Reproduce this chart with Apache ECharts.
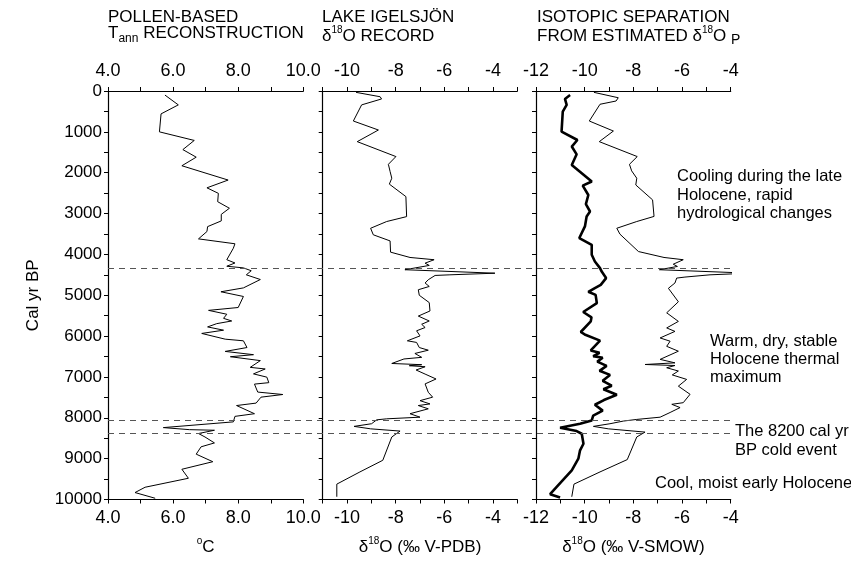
<!DOCTYPE html>
<html>
<head>
<meta charset="utf-8">
<title>Igelsjon records</title>
<script src="https://cdn.jsdelivr.net/npm/echarts@6/dist/echarts.min.js"></script>
<style>
	html, body { margin: 0; padding: 0; background: #fff; }
	#chart { width: 851px; height: 561px; }
</style>
</head>
<body>
<div id="chart"></div>
<script>
// pollen-based Tann
const ageTann = [100, 340, 560, 1000, 1210, 1435, 1620, 1830, 2180, 2370, 2505, 2710, 2870, 3020, 3180, 3320, 3440, 3620, 3740, 3850, 4130, 4210, 4290, 4330, 4400, 4500, 4615, 4820, 4915, 5030, 5300, 5370, 5465, 5565, 5630, 5695, 5775, 5855, 5935, 6075, 6115, 6280, 6375, 6455, 6505, 6600, 6765, 6805, 6925, 7005, 7140, 7175, 7370, 7430, 7495, 7640, 7700, 7900, 7965, 8100, 8240, 8290, 8305, 8385, 8470, 8615, 8710, 8890, 9075, 9260, 9480, 9700, 9830, 9970]
const tann = [5.75, 6.16, 5.63, 5.58, 6.65, 6.30, 6.71, 6.27, 7.69, 7.04, 7.39, 7.37, 7.73, 7.48, 7.48, 7.06, 7.04, 6.78, 7.90, 7.85, 7.65, 7.90, 7.65, 8.16, 8.40, 8.25, 8.68, 8.16, 7.47, 8.16, 8.00, 7.09, 7.65, 7.55, 7.80, 7.34, 7.06, 7.55, 6.88, 7.60, 8.16, 8.27, 7.60, 8.47, 7.76, 8.68, 8.37, 8.83, 8.47, 8.88, 8.94, 8.50, 8.60, 9.37, 8.70, 8.55, 7.95, 8.50, 7.90, 7.85, 5.70, 6.50, 7.27, 6.78, 6.98, 7.27, 6.86, 6.71, 7.22, 6.27, 6.47, 5.14, 4.83, 5.45]

// lake Igelsjon d18O (V-PDB)
const ageLake = [33, 140, 195, 340, 735, 955, 1240, 1605, 1795, 1970, 2135, 2280, 2585, 3075, 3195, 3360, 3520, 3670, 3945, 4075, 4130, 4215, 4270, 4375, 4460, 4500, 4515, 4620, 4700, 4785, 4865, 5000, 5180, 5385, 5510, 5630, 5710, 5790, 5870, 5995, 6115, 6155, 6280, 6345, 6425, 6520, 6560, 6670, 6700, 6725, 6750, 6830, 6930, 7050, 7170, 7375, 7495, 7580, 7660, 7700, 7780, 7900, 7985, 8025, 8050, 8145, 8210, 8270, 8325, 8470, 9040, 9325, 9624, 9933]
const d18oLake = [-9.63, -8.64, -8.58, -9.40, -9.74, -8.71, -9.58, -7.99, -8.30, -8.23, -8.16, -8.26, -7.58, -7.55, -8.37, -9.03, -8.92, -8.23, -8.21, -7.41, -6.42, -6.79, -6.62, -7.62, -3.92, -5.77, -6.38, -6.66, -6.79, -6.62, -7.07, -7.03, -6.62, -6.59, -7.07, -6.62, -6.93, -6.79, -7.14, -7.00, -7.52, -7.14, -7.03, -6.66, -7.21, -6.93, -7.66, -8.16, -6.93, -7.44, -6.79, -7.16, -6.79, -6.34, -6.79, -6.66, -6.48, -7.00, -6.59, -7.07, -6.66, -7.41, -7.00, -8.37, -8.78, -8.99, -9.71, -9.03, -7.82, -8.16, -8.53, -9.47, -10.42, -10.42]

// isotopic separation, thin line (V-SMOW)
const ageSepThin = [33, 165, 245, 325, 735, 980, 1240, 1605, 1795, 1955, 2135, 2300, 2665, 3070, 3195, 3360, 3505, 3930, 4075, 4130, 4240, 4295, 4375, 4460, 4500, 4555, 4580, 4700, 4830, 5160, 5430, 5640, 5800, 5885, 6045, 6125, 6250, 6370, 6570, 6655, 6695, 6720, 6775, 6855, 6950, 7060, 7225, 7425, 7630, 7670, 7750, 7870, 7985, 8040, 8080, 8145, 8210, 8270, 8350, 8470, 9023, 9325, 9624, 9933]
const d18oSepThin = [-9.62, -8.62, -8.71, -9.37, -9.81, -8.82, -9.40, -7.84, -8.16, -8.07, -7.86, -7.90, -7.21, -7.15, -7.86, -8.68, -8.55, -7.79, -6.74, -5.95, -6.36, -6.19, -6.93, -3.23, -4.85, -5.88, -6.22, -6.29, -6.56, -6.15, -6.63, -6.15, -6.63, -6.29, -6.90, -6.49, -6.63, -6.15, -6.90, -6.29, -7.52, -6.29, -6.63, -6.15, -6.40, -5.81, -6.15, -5.67, -5.95, -6.42, -6.08, -6.49, -6.90, -7.86, -8.41, -8.96, -9.64, -9.03, -7.52, -7.86, -8.25, -9.37, -10.44, -10.53]

// isotopic separation, thick line (estimated d18O P)
const ageSepThick = [100, 195, 340, 505, 995, 1200, 1360, 1550, 1810, 2215, 2315, 2545, 2770, 2950, 3070, 3315, 3600, 3765, 4010, 4175, 4335, 4420, 4580, 4745, 4830, 4915, 4990, 5195, 5410, 5540, 5640, 5900, 5960, 6110, 6350, 6410, 6490, 6530, 6625, 6730, 6850, 6950, 7095, 7215, 7300, 7435, 7565, 7680, 7825, 7945, 8065, 8145, 8245, 8325, 8390, 8635, 8795, 9000, 9285, 9690, 9870, 9950]
const d18oSepThick = [-10.60, -10.81, -10.74, -10.90, -10.95, -10.30, -10.53, -10.33, -10.53, -9.71, -10.08, -9.85, -9.95, -9.78, -9.92, -9.99, -10.22, -9.71, -9.71, -9.58, -9.37, -9.30, -9.12, -9.34, -9.60, -9.85, -9.55, -9.50, -10.06, -9.72, -9.75, -10.16, -10.00, -9.37, -9.75, -9.39, -9.65, -9.26, -9.48, -9.10, -9.39, -8.96, -9.26, -8.89, -9.23, -8.68, -9.21, -9.58, -9.26, -9.65, -9.71, -10.19, -11.01, -10.33, -10.12, -10.05, -10.19, -10.26, -10.53, -11.15, -11.42, -11.01]

// event lines (cal yr BP)
const eventAges = [4300, 8000, 8300]

const FONT = "'Liberation Sans', Arial, sans-serif"

// rich text pieces for super / subscripts
const rich = {
	n: { fontSize: 17, lineHeight: 22, fontFamily: FONT, color: '#000' },
	sub: { fontSize: 12, lineHeight: 12, verticalAlign: 'bottom', fontFamily: FONT, color: '#000' },
	subP: { fontSize: 14, lineHeight: 14, verticalAlign: 'bottom', fontFamily: FONT, color: '#000' },
	sup: { fontSize: 10, lineHeight: 10, verticalAlign: 'top', fontFamily: FONT, color: '#000' },
}

function pairs(xs, ys) {
	return ys.map((y, i) => [xs[i], y])
}

const gridTop = 91
const gridHeight = 412
const panels = [
	{ left: 108, width: 195.3, min: 4, max: 10, digits: 1, name: '{sup|o}{n|C}' },
	{ left: 322.7, width: 194.6, min: -11, max: -3, digits: 0, name: '{n|δ}{sup|18}{n|O (‰ V-PDB)}' },
	{ left: 536, width: 194.7, min: -12, max: -4, digits: 0, name: '{n|δ}{sup|18}{n|O (‰ V-SMOW)}' },
]

const grid = panels.map((p) => ({ left: p.left, width: p.width, top: gridTop, height: gridHeight }))
// extra grid just for the dashed event lines across all panels
grid.push({ left: 108, width: 622.7, top: gridTop, height: gridHeight })

const xAxis = []
panels.forEach((p, i) => {
	;['top', 'bottom'].forEach((pos) => {
		xAxis.push({
			type: 'value',
			gridIndex: i,
			position: pos,
			min: p.min,
			max: p.max,
			interval: 1,
			splitLine: { show: false },
			axisLine: { onZero: false, lineStyle: { color: '#000', width: 1.2 } },
			axisTick: { length: 4, lineStyle: { color: '#000' } },
			axisLabel: {
				margin: pos == 'top' ? 11 : 10,
				color: '#000',
				fontSize: 18,
				fontFamily: FONT,
				showMinLabel: true,
				showMaxLabel: true,
				formatter: (v) => (Math.round(v) % 2 == 0 ? v.toFixed(p.digits) : ''),
			},
			name: pos == 'bottom' ? p.name : '',
			nameLocation: 'middle',
			nameGap: 37,
			nameTextStyle: { rich: rich, verticalAlign: 'top' },
		})
	})
})
xAxis.push({ type: 'value', gridIndex: 3, min: 0, max: 1, show: false })

const yAxis = [0, 1, 2].map((i) => ({
	type: 'value',
	gridIndex: i,
	inverse: true,
	min: 0,
	max: 10000,
	interval: 500,
	splitLine: { show: false },
	axisLine: { onZero: false, lineStyle: { color: '#000', width: 1.2 } },
	axisTick: { length: 4, lineStyle: { color: '#000' } },
	axisLabel: {
		show: i == 0,
		margin: 6,
		color: '#000',
		fontSize: 17,
		fontFamily: FONT,
		formatter: (v) => (v % 1000 == 0 ? String(v) : ''),
	},
	name: i == 0 ? 'Cal yr BP' : '',
	nameLocation: 'middle',
	nameGap: 66,
	nameTextStyle: { color: '#000', fontSize: 17, fontFamily: FONT },
}))
yAxis.push({ type: 'value', gridIndex: 3, inverse: true, min: 0, max: 10000, show: false })

function lineSeries(xi, yi, data, width, clip) {
	return {
		type: 'line',
		xAxisIndex: xi,
		yAxisIndex: yi,
		data: data,
		symbol: 'none',
		clip: clip,
		lineStyle: { color: '#000', width: width },
		z: 3,
	}
}

const series = [
	lineSeries(0, 0, pairs(tann, ageTann), 1, true),
	lineSeries(2, 1, pairs(d18oLake, ageLake), 1, true),
	lineSeries(4, 2, pairs(d18oSepThin, ageSepThin), 1, false),
	lineSeries(4, 2, pairs(d18oSepThick, ageSepThick), 2.6, true),
	{
		type: 'line',
		xAxisIndex: 6,
		yAxisIndex: 3,
		data: [[0, 0]],
		symbol: 'none',
		lineStyle: { opacity: 0 },
		z: 2,
		markLine: {
			silent: true,
			symbol: 'none',
			label: { show: false },
			lineStyle: { color: '#555', width: 1, type: [6, 5] },
			data: eventAges.map((a) => ({ yAxis: a })),
		},
	},
]

// headings and annotations
function txt(x, y, text) {
	return {
		type: 'text',
		left: x,
		top: y,
		style: { text: text, rich: rich, fill: '#000', font: '17px ' + FONT },
	}
}
function note(x, y, text) {
	return {
		type: 'text',
		x: x,
		y: y,
		style: { text: text, fill: '#000', font: '16.5px ' + FONT, textVerticalAlign: 'alphabetic' },
	}
}

const graphic = [
	txt(108, 9, '{n|POLLEN-BASED}'),
	txt(108, 25, '{n|T}{sub|ann}{n| RECONSTRUCTION}'),
	txt(322, 9, '{n|LAKE IGELSJÖN}'),
	txt(322, 25, '{n|δ}{sup|18}{n|O RECORD}'),
	txt(537, 9, '{n|ISOTOPIC SEPARATION}'),
	txt(537, 25, '{n|FROM ESTIMATED δ}{sup|18}{n|O }{subP|P}'),
	note(677, 168, 'Cooling during the late'),
	note(677, 187, 'Holocene, rapid'),
	note(677, 205, 'hydrological changes'),
	note(710, 333, 'Warm, dry, stable'),
	note(710, 351, 'Holocene thermal'),
	note(710, 369, 'maximum'),
	note(735, 423, 'The 8200 cal yr'),
	note(735, 442, 'BP cold event'),
	note(655, 475, 'Cool, moist early Holocene'),
]

const chart = echarts.init(document.getElementById('chart'))
chart.setOption({
	animation: false,
	backgroundColor: '#fff',
	grid: grid,
	xAxis: xAxis,
	yAxis: yAxis,
	series: series,
	graphic: graphic,
})
</script>
</body>
</html>
